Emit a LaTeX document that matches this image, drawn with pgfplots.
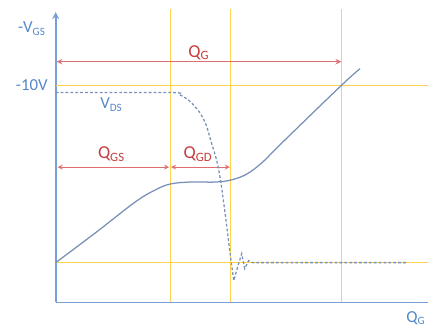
\documentclass[border=0pt]{standalone}
\usepackage{pgfplots}
\pgfplotsset{compat=1.18}
\usepackage{fontspec}
\setmainfont{Carlito}
\definecolor{axisblue}{RGB}{120,160,215}
\definecolor{curve}{RGB}{120,145,185}
\definecolor{guide}{RGB}{255,210,80}
\definecolor{qred}{RGB}{200,60,60}
\definecolor{arrowred}{RGB}{225,110,110}
\definecolor{lblue}{RGB}{85,135,200}
\begin{document}
\begin{tikzpicture}
\begin{axis}[
  scale only axis,
  width=93.5mm, height=73mm,
  xmin=0, xmax=374, ymin=0, ymax=292,
  axis lines=left,
  axis line style={axisblue, line width=1.3pt},
  y axis line style={-stealth},
  x axis line style={-},
  xtick=\empty, ytick=\empty,
  clip=false,
  font=\fontsize{12}{14}\selectfont,
]
% page frame
\path (axis cs:-56,-25) rectangle (axis cs:374,304);

% guide lines
\addplot[guide, line width=0.75pt] coordinates {(115,0) (115,295)};
\addplot[guide, line width=0.75pt] coordinates {(176,0) (176,295)};
\addplot[guide, line width=0.75pt] coordinates {(287,0) (287,295)};
\addplot[guide, line width=0.75pt] coordinates {(0,218) (374,218)};
\addplot[guide, line width=0.75pt] coordinates {(0,40) (374,40)};

% charge arrows
\addplot[arrowred, line width=0.8pt, <->, >=stealth] coordinates {(1,242) (287,242)};
\addplot[arrowred, line width=0.6pt, <->, >=stealth] coordinates {(2,136) (114,136)};
\addplot[arrowred, line width=0.6pt, <->, >=stealth] coordinates {(116,136) (175,136)};

% V_GS
\addplot[curve, line width=0.9pt, smooth, tension=0.6] coordinates {
  (0,40) (40,70) (80,101) (100,113) (115,119) (135,121) (160,121)
  (176,123) (192,129) (208,141) (226,159) (287,218) (306,235)
};

% V_DS
\addplot[curve, line width=0.9pt, dash pattern=on 2pt off 1.5pt, smooth] coordinates {
  (0,211) (115,211) (124,209) (134,203) (144,192) (151,179)
  (157,159) (162,142) (166,121) (171,84)
};
\addplot[curve, line width=0.9pt, dash pattern=on 2pt off 1.5pt] coordinates {
  (171,84) (176,44) (179,22) (183,36) (187,49) (190,34) (194,42)
  (198,40) (354,40)
};

% labels
\node[text=lblue] at (axis cs:-24,275) {-V\textsubscript{GS}};
\node[text=lblue] at (axis cs:-24,218) {-10V};
\node[text=lblue] at (axis cs:56,199) {V\textsubscript{DS}};
\node[text=qred, font=\fontsize{13}{15}\selectfont] at (axis cs:144,251) {Q\textsubscript{G}};
\node[text=qred, font=\fontsize{13}{15}\selectfont] at (axis cs:56,149) {Q\textsubscript{GS}};
\node[text=qred, font=\fontsize{13}{15}\selectfont] at (axis cs:143,149) {Q\textsubscript{GD}};
\node[text=lblue] at (axis cs:362,-16) {Q\textsubscript{G}};
\end{axis}
\end{tikzpicture}
\end{document}
